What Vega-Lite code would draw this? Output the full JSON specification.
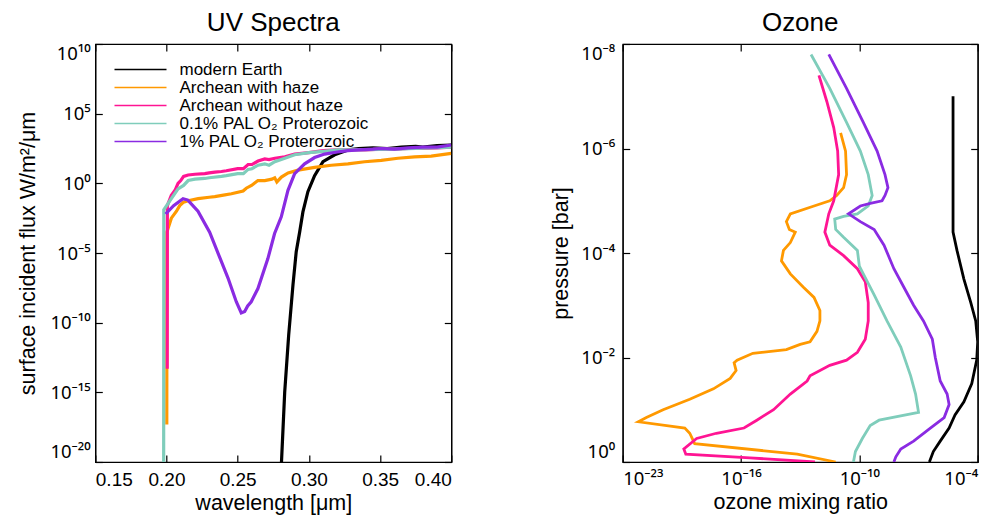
{
  "$schema": "https://vega.github.io/schema/vega-lite/v6.json",
  "background": "white",
  "padding": {"left": 17.3, "top": 9, "right": 5, "bottom": 5},
  "autosize": {"type": "pad"},
  "config": {
    "font": "Liberation Sans",
    "view": {"stroke": "black", "strokeWidth": 1.2},
    "axis": {
      "grid": false, "domainColor": "black", "domainWidth": 1.2,
      "tickColor": "black", "tickWidth": 1.2, "tickSize": -7,
      "labelColor": "black", "labelFont": "Liberation Sans", "labelFontSize": 19,
      "labelOverlap": false,
      "titleColor": "black", "titleFont": "Liberation Sans", "titleFontSize": 21.5, "titleFontWeight": "normal"
    },
    "title": {"font": "Liberation Sans", "fontSize": 26, "fontWeight": "normal", "color": "black", "offset": 7}
  },
  "datasets": {
    "uv": [
      {"series": "modern Earth", "wl": 0.2803, "flux": 1e-21},
      {"series": "modern Earth", "wl": 0.2830, "flux": 1e-15},
      {"series": "modern Earth", "wl": 0.2858, "flux": 1.259e-11},
      {"series": "modern Earth", "wl": 0.2888, "flux": 5.012e-8},
      {"series": "modern Earth", "wl": 0.2911, "flux": 1.259e-5},
      {"series": "modern Earth", "wl": 0.2935, "flux": 3.162e-4},
      {"series": "modern Earth", "wl": 0.2958, "flux": 8.913e-3},
      {"series": "modern Earth", "wl": 0.2993, "flux": 0.2512},
      {"series": "modern Earth", "wl": 0.3040, "flux": 3.548},
      {"series": "modern Earth", "wl": 0.3099, "flux": 35.48},
      {"series": "modern Earth", "wl": 0.3181, "flux": 112.2},
      {"series": "modern Earth", "wl": 0.3274, "flux": 251.2},
      {"series": "modern Earth", "wl": 0.335, "flux": 316.2},
      {"series": "modern Earth", "wl": 0.345, "flux": 354.8},
      {"series": "modern Earth", "wl": 0.355, "flux": 316.2},
      {"series": "modern Earth", "wl": 0.365, "flux": 398.1},
      {"series": "modern Earth", "wl": 0.375, "flux": 446.7},
      {"series": "modern Earth", "wl": 0.38, "flux": 398.1},
      {"series": "modern Earth", "wl": 0.39, "flux": 501.2},
      {"series": "modern Earth", "wl": 0.40, "flux": 562.3},

      {"series": "Archean with haze", "wl": 0.2002, "flux": 5.012e-18},
      {"series": "Archean with haze", "wl": 0.2003, "flux": 3.162e-4},
      {"series": "Archean with haze", "wl": 0.2034, "flux": 3.162e-3},
      {"series": "Archean with haze", "wl": 0.2070, "flux": 0.01},
      {"series": "Archean with haze", "wl": 0.2093, "flux": 0.02512},
      {"series": "Archean with haze", "wl": 0.2120, "flux": 0.04467},
      {"series": "Archean with haze", "wl": 0.2152, "flux": 0.05623},
      {"series": "Archean with haze", "wl": 0.2222, "flux": 0.07943},
      {"series": "Archean with haze", "wl": 0.2300, "flux": 0.1},
      {"series": "Archean with haze", "wl": 0.2339, "flux": 0.1122},
      {"series": "Archean with haze", "wl": 0.2400, "flux": 0.1413},
      {"series": "Archean with haze", "wl": 0.2456, "flux": 0.1778},
      {"series": "Archean with haze", "wl": 0.2538, "flux": 0.2818},
      {"series": "Archean with haze", "wl": 0.2560, "flux": 0.4467},
      {"series": "Archean with haze", "wl": 0.2597, "flux": 0.7079},
      {"series": "Archean with haze", "wl": 0.2642, "flux": 1.585},
      {"series": "Archean with haze", "wl": 0.2690, "flux": 1.585},
      {"series": "Archean with haze", "wl": 0.2740, "flux": 1.995},
      {"series": "Archean with haze", "wl": 0.2760, "flux": 2.512},
      {"series": "Archean with haze", "wl": 0.2775, "flux": 1.259},
      {"series": "Archean with haze", "wl": 0.2807, "flux": 2.818},
      {"series": "Archean with haze", "wl": 0.2854, "flux": 5.623},
      {"series": "Archean with haze", "wl": 0.2924, "flux": 8.913},
      {"series": "Archean with haze", "wl": 0.3040, "flux": 14.13},
      {"series": "Archean with haze", "wl": 0.3157, "flux": 19.95},
      {"series": "Archean with haze", "wl": 0.3274, "flux": 25.12},
      {"series": "Archean with haze", "wl": 0.3391, "flux": 35.48},
      {"series": "Archean with haze", "wl": 0.3508, "flux": 44.67},
      {"series": "Archean with haze", "wl": 0.3625, "flux": 63.10},
      {"series": "Archean with haze", "wl": 0.3742, "flux": 79.43},
      {"series": "Archean with haze", "wl": 0.3859, "flux": 89.13},
      {"series": "Archean with haze", "wl": 0.4000, "flux": 141.3},

      {"series": "Archean without haze", "wl": 0.2005, "flux": 5.012e-14},
      {"series": "Archean without haze", "wl": 0.2006, "flux": 0.02512},
      {"series": "Archean without haze", "wl": 0.2034, "flux": 0.1413},
      {"series": "Archean without haze", "wl": 0.2060, "flux": 0.3162},
      {"series": "Archean without haze", "wl": 0.2081, "flux": 1},
      {"series": "Archean without haze", "wl": 0.2100, "flux": 1.585},
      {"series": "Archean without haze", "wl": 0.2120, "flux": 3.162},
      {"series": "Archean without haze", "wl": 0.2152, "flux": 3.981},
      {"series": "Archean without haze", "wl": 0.2200, "flux": 4.467},
      {"series": "Archean without haze", "wl": 0.2269, "flux": 5.012},
      {"series": "Archean without haze", "wl": 0.2300, "flux": 5.623},
      {"series": "Archean without haze", "wl": 0.2340, "flux": 6.310},
      {"series": "Archean without haze", "wl": 0.2386, "flux": 7.079},
      {"series": "Archean without haze", "wl": 0.2420, "flux": 7.943},
      {"series": "Archean without haze", "wl": 0.2500, "flux": 11.22},
      {"series": "Archean without haze", "wl": 0.2540, "flux": 11.22},
      {"series": "Archean without haze", "wl": 0.2573, "flux": 22.39},
      {"series": "Archean without haze", "wl": 0.2600, "flux": 22.39},
      {"series": "Archean without haze", "wl": 0.2643, "flux": 39.81},
      {"series": "Archean without haze", "wl": 0.2690, "flux": 56.23},
      {"series": "Archean without haze", "wl": 0.2720, "flux": 50.12},
      {"series": "Archean without haze", "wl": 0.2761, "flux": 63.10},
      {"series": "Archean without haze", "wl": 0.2831, "flux": 79.43},
      {"series": "Archean without haze", "wl": 0.2900, "flux": 125.9},
      {"series": "Archean without haze", "wl": 0.3000, "flux": 158.5},
      {"series": "Archean without haze", "wl": 0.3100, "flux": 223.9},
      {"series": "Archean without haze", "wl": 0.3200, "flux": 251.2},
      {"series": "Archean without haze", "wl": 0.3300, "flux": 251.2},
      {"series": "Archean without haze", "wl": 0.3400, "flux": 251.2},
      {"series": "Archean without haze", "wl": 0.3500, "flux": 281.8},
      {"series": "Archean without haze", "wl": 0.3600, "flux": 281.8},
      {"series": "Archean without haze", "wl": 0.3700, "flux": 316.2},
      {"series": "Archean without haze", "wl": 0.3800, "flux": 316.2},
      {"series": "Archean without haze", "wl": 0.3900, "flux": 354.8},
      {"series": "Archean without haze", "wl": 0.4000, "flux": 398.1},

      {"series": "0.1% PAL O₂ Proterozoic", "wl": 0.1980, "flux": 1e-22},
      {"series": "0.1% PAL O₂ Proterozoic", "wl": 0.1981, "flux": 0.01259},
      {"series": "0.1% PAL O₂ Proterozoic", "wl": 0.2034, "flux": 0.07943},
      {"series": "0.1% PAL O₂ Proterozoic", "wl": 0.2081, "flux": 0.3981},
      {"series": "0.1% PAL O₂ Proterozoic", "wl": 0.2120, "flux": 0.7079},
      {"series": "0.1% PAL O₂ Proterozoic", "wl": 0.2152, "flux": 1.585},
      {"series": "0.1% PAL O₂ Proterozoic", "wl": 0.2200, "flux": 1.995},
      {"series": "0.1% PAL O₂ Proterozoic", "wl": 0.2269, "flux": 2.239},
      {"series": "0.1% PAL O₂ Proterozoic", "wl": 0.2300, "flux": 2.512},
      {"series": "0.1% PAL O₂ Proterozoic", "wl": 0.2386, "flux": 3.162},
      {"series": "0.1% PAL O₂ Proterozoic", "wl": 0.2420, "flux": 3.548},
      {"series": "0.1% PAL O₂ Proterozoic", "wl": 0.2500, "flux": 5.012},
      {"series": "0.1% PAL O₂ Proterozoic", "wl": 0.2540, "flux": 5.012},
      {"series": "0.1% PAL O₂ Proterozoic", "wl": 0.2573, "flux": 10},
      {"series": "0.1% PAL O₂ Proterozoic", "wl": 0.2600, "flux": 11.22},
      {"series": "0.1% PAL O₂ Proterozoic", "wl": 0.2643, "flux": 19.95},
      {"series": "0.1% PAL O₂ Proterozoic", "wl": 0.2690, "flux": 25.12},
      {"series": "0.1% PAL O₂ Proterozoic", "wl": 0.2720, "flux": 19.95},
      {"series": "0.1% PAL O₂ Proterozoic", "wl": 0.2761, "flux": 35.48},
      {"series": "0.1% PAL O₂ Proterozoic", "wl": 0.2831, "flux": 63.10},
      {"series": "0.1% PAL O₂ Proterozoic", "wl": 0.2900, "flux": 112.2},
      {"series": "0.1% PAL O₂ Proterozoic", "wl": 0.3000, "flux": 158.5},
      {"series": "0.1% PAL O₂ Proterozoic", "wl": 0.3100, "flux": 199.5},
      {"series": "0.1% PAL O₂ Proterozoic", "wl": 0.3200, "flux": 251.2},
      {"series": "0.1% PAL O₂ Proterozoic", "wl": 0.3300, "flux": 251.2},
      {"series": "0.1% PAL O₂ Proterozoic", "wl": 0.3600, "flux": 281.8},
      {"series": "0.1% PAL O₂ Proterozoic", "wl": 0.4000, "flux": 398.1},

      {"series": "1% PAL O₂ Proterozoic", "wl": 0.1994, "flux": 6.310e-3},
      {"series": "1% PAL O₂ Proterozoic", "wl": 0.2050, "flux": 0.02512},
      {"series": "1% PAL O₂ Proterozoic", "wl": 0.2116, "flux": 0.07943},
      {"series": "1% PAL O₂ Proterozoic", "wl": 0.2150, "flux": 0.0631},
      {"series": "1% PAL O₂ Proterozoic", "wl": 0.2221, "flux": 0.01},
      {"series": "1% PAL O₂ Proterozoic", "wl": 0.2303, "flux": 3.162e-4},
      {"series": "1% PAL O₂ Proterozoic", "wl": 0.2373, "flux": 5.012e-6},
      {"series": "1% PAL O₂ Proterozoic", "wl": 0.2432, "flux": 1.585e-7},
      {"series": "1% PAL O₂ Proterozoic", "wl": 0.2490, "flux": 3.162e-9},
      {"series": "1% PAL O₂ Proterozoic", "wl": 0.2525, "flux": 5.012e-10},
      {"series": "1% PAL O₂ Proterozoic", "wl": 0.2549, "flux": 6.310e-10},
      {"series": "1% PAL O₂ Proterozoic", "wl": 0.2570, "flux": 1.585e-9},
      {"series": "1% PAL O₂ Proterozoic", "wl": 0.2595, "flux": 3.162e-9},
      {"series": "1% PAL O₂ Proterozoic", "wl": 0.2642, "flux": 2.818e-8},
      {"series": "1% PAL O₂ Proterozoic", "wl": 0.2712, "flux": 3.981e-6},
      {"series": "1% PAL O₂ Proterozoic", "wl": 0.2759, "flux": 2.512e-4},
      {"series": "1% PAL O₂ Proterozoic", "wl": 0.2806, "flux": 3.981e-3},
      {"series": "1% PAL O₂ Proterozoic", "wl": 0.2853, "flux": 0.3162},
      {"series": "1% PAL O₂ Proterozoic", "wl": 0.2900, "flux": 5.012},
      {"series": "1% PAL O₂ Proterozoic", "wl": 0.2970, "flux": 25.12},
      {"series": "1% PAL O₂ Proterozoic", "wl": 0.3040, "flux": 70.79},
      {"series": "1% PAL O₂ Proterozoic", "wl": 0.3110, "flux": 125.9},
      {"series": "1% PAL O₂ Proterozoic", "wl": 0.3200, "flux": 177.8},
      {"series": "1% PAL O₂ Proterozoic", "wl": 0.3274, "flux": 223.9},
      {"series": "1% PAL O₂ Proterozoic", "wl": 0.3350, "flux": 251.2},
      {"series": "1% PAL O₂ Proterozoic", "wl": 0.3450, "flux": 281.8},
      {"series": "1% PAL O₂ Proterozoic", "wl": 0.3508, "flux": 316.2},
      {"series": "1% PAL O₂ Proterozoic", "wl": 0.3600, "flux": 281.8},
      {"series": "1% PAL O₂ Proterozoic", "wl": 0.3700, "flux": 354.8},
      {"series": "1% PAL O₂ Proterozoic", "wl": 0.3800, "flux": 398.1},
      {"series": "1% PAL O₂ Proterozoic", "wl": 0.3900, "flux": 398.1},
      {"series": "1% PAL O₂ Proterozoic", "wl": 0.4000, "flux": 562.3}
    ],
    "oz": [
      {"series": "modern Earth", "mix": 5.623e-6, "p": 1e-7},
      {"series": "modern Earth", "mix": 5.623e-6, "p": 3.981e-5},
      {"series": "modern Earth", "mix": 8.913e-6, "p": 8.913e-5},
      {"series": "modern Earth", "mix": 1.995e-5, "p": 3.162e-4},
      {"series": "modern Earth", "mix": 4.467e-5, "p": 8.913e-4},
      {"series": "modern Earth", "mix": 7.943e-5, "p": 1.995e-3},
      {"series": "modern Earth", "mix": 1e-4, "p": 5.012e-3},
      {"series": "modern Earth", "mix": 8.913e-5, "p": 0.01122},
      {"series": "modern Earth", "mix": 5.012e-5, "p": 0.03162},
      {"series": "modern Earth", "mix": 1.995e-5, "p": 0.07079},
      {"series": "modern Earth", "mix": 7.079e-6, "p": 0.1259},
      {"series": "modern Earth", "mix": 3.548e-6, "p": 0.2239},
      {"series": "modern Earth", "mix": 1.259e-6, "p": 0.3981},
      {"series": "modern Earth", "mix": 5.623e-7, "p": 0.6310},
      {"series": "modern Earth", "mix": 3.548e-7, "p": 1},

      {"series": "Archean with haze", "mix": 1.122e-11, "p": 5.012e-7},
      {"series": "Archean with haze", "mix": 1.995e-11, "p": 1.122e-6},
      {"series": "Archean with haze", "mix": 2.239e-11, "p": 3.162e-6},
      {"series": "Archean with haze", "mix": 1.585e-11, "p": 5.623e-6},
      {"series": "Archean with haze", "mix": 7.079e-12, "p": 7.943e-6},
      {"series": "Archean with haze", "mix": 3.162e-12, "p": 1e-5},
      {"series": "Archean with haze", "mix": 5.012e-13, "p": 1.259e-5},
      {"series": "Archean with haze", "mix": 3.162e-14, "p": 1.778e-5},
      {"series": "Archean with haze", "mix": 1.995e-14, "p": 2.512e-5},
      {"series": "Archean with haze", "mix": 2.818e-14, "p": 3.548e-5},
      {"series": "Archean with haze", "mix": 5.623e-14, "p": 3.981e-5},
      {"series": "Archean with haze", "mix": 3.162e-14, "p": 6.310e-5},
      {"series": "Archean with haze", "mix": 1.413e-14, "p": 8.913e-5},
      {"series": "Archean with haze", "mix": 1.122e-14, "p": 1.413e-4},
      {"series": "Archean with haze", "mix": 3.162e-14, "p": 2.512e-4},
      {"series": "Archean with haze", "mix": 1.413e-13, "p": 4.467e-4},
      {"series": "Archean with haze", "mix": 5.012e-13, "p": 7.079e-4},
      {"series": "Archean with haze", "mix": 1e-12, "p": 1.259e-3},
      {"series": "Archean with haze", "mix": 1e-12, "p": 1.995e-3},
      {"series": "Archean with haze", "mix": 7.079e-13, "p": 3.162e-3},
      {"series": "Archean with haze", "mix": 3.162e-13, "p": 5.012e-3},
      {"series": "Archean with haze", "mix": 1e-13, "p": 5.623e-3},
      {"series": "Archean with haze", "mix": 1.995e-14, "p": 7.079e-3},
      {"series": "Archean with haze", "mix": 3.981e-16, "p": 8.318e-3},
      {"series": "Archean with haze", "mix": 6.310e-17, "p": 0.01122},
      {"series": "Archean with haze", "mix": 4.467e-17, "p": 0.01259},
      {"series": "Archean with haze", "mix": 5.623e-17, "p": 0.01778},
      {"series": "Archean with haze", "mix": 2.818e-17, "p": 0.02512},
      {"series": "Archean with haze", "mix": 3.981e-18, "p": 0.03981},
      {"series": "Archean with haze", "mix": 2.512e-19, "p": 0.06310},
      {"series": "Archean with haze", "mix": 1.122e-20, "p": 0.1},
      {"series": "Archean with haze", "mix": 1.585e-21, "p": 0.1413},
      {"series": "Archean with haze", "mix": 6.310e-22, "p": 0.1698},
      {"series": "Archean with haze", "mix": 1.413e-19, "p": 0.2239},
      {"series": "Archean with haze", "mix": 2.512e-19, "p": 0.2818},
      {"series": "Archean with haze", "mix": 4.467e-19, "p": 0.4467},
      {"series": "Archean with haze", "mix": 7.079e-14, "p": 0.7079},
      {"series": "Archean with haze", "mix": 6.310e-12, "p": 1},

      {"series": "Archean without haze", "mix": 8.913e-13, "p": 3.981e-8},
      {"series": "Archean without haze", "mix": 2.239e-12, "p": 1.259e-7},
      {"series": "Archean without haze", "mix": 5.012e-12, "p": 3.981e-7},
      {"series": "Archean without haze", "mix": 7.943e-12, "p": 1.122e-6},
      {"series": "Archean without haze", "mix": 8.913e-12, "p": 3.162e-6},
      {"series": "Archean without haze", "mix": 5.012e-12, "p": 1e-5},
      {"series": "Archean without haze", "mix": 2.818e-12, "p": 1.778e-5},
      {"series": "Archean without haze", "mix": 1.778e-12, "p": 3.981e-5},
      {"series": "Archean without haze", "mix": 3.162e-12, "p": 7.079e-5},
      {"series": "Archean without haze", "mix": 1.585e-11, "p": 1.122e-4},
      {"series": "Archean without haze", "mix": 7.943e-11, "p": 1.995e-4},
      {"series": "Archean without haze", "mix": 1.995e-10, "p": 3.548e-4},
      {"series": "Archean without haze", "mix": 2.818e-10, "p": 8.913e-4},
      {"series": "Archean without haze", "mix": 2.818e-10, "p": 1.995e-3},
      {"series": "Archean without haze", "mix": 1.995e-10, "p": 4.467e-3},
      {"series": "Archean without haze", "mix": 7.943e-11, "p": 7.943e-3},
      {"series": "Archean without haze", "mix": 2.239e-11, "p": 0.01122},
      {"series": "Archean without haze", "mix": 3.162e-12, "p": 0.01413},
      {"series": "Archean without haze", "mix": 3.162e-13, "p": 0.02239},
      {"series": "Archean without haze", "mix": 2.239e-13, "p": 0.02818},
      {"series": "Archean without haze", "mix": 3.162e-14, "p": 0.05012},
      {"series": "Archean without haze", "mix": 4.467e-15, "p": 0.1},
      {"series": "Archean without haze", "mix": 6.310e-16, "p": 0.1585},
      {"series": "Archean without haze", "mix": 1.413e-16, "p": 0.2239},
      {"series": "Archean without haze", "mix": 5.623e-18, "p": 0.2818},
      {"series": "Archean without haze", "mix": 5.623e-19, "p": 0.3548},
      {"series": "Archean without haze", "mix": 1.259e-19, "p": 0.5623},
      {"series": "Archean without haze", "mix": 1.585e-19, "p": 0.7079},
      {"series": "Archean without haze", "mix": 2.818e-16, "p": 0.8318},
      {"series": "Archean without haze", "mix": 5.623e-13, "p": 1},

      {"series": "0.1% PAL O₂ Proterozoic", "mix": 3.548e-13, "p": 1.585e-8},
      {"series": "0.1% PAL O₂ Proterozoic", "mix": 3.162e-12, "p": 7.079e-8},
      {"series": "0.1% PAL O₂ Proterozoic", "mix": 2.239e-11, "p": 3.162e-7},
      {"series": "0.1% PAL O₂ Proterozoic", "mix": 1.122e-10, "p": 1.122e-6},
      {"series": "0.1% PAL O₂ Proterozoic", "mix": 2.818e-10, "p": 3.162e-6},
      {"series": "0.1% PAL O₂ Proterozoic", "mix": 4.467e-10, "p": 7.943e-6},
      {"series": "0.1% PAL O₂ Proterozoic", "mix": 2.818e-10, "p": 1.259e-5},
      {"series": "0.1% PAL O₂ Proterozoic", "mix": 7.943e-11, "p": 1.778e-5},
      {"series": "0.1% PAL O₂ Proterozoic", "mix": 1.585e-11, "p": 1.995e-5},
      {"series": "0.1% PAL O₂ Proterozoic", "mix": 5.623e-12, "p": 2.239e-5},
      {"series": "0.1% PAL O₂ Proterozoic", "mix": 6.310e-12, "p": 3.548e-5},
      {"series": "0.1% PAL O₂ Proterozoic", "mix": 1.585e-11, "p": 5.012e-5},
      {"series": "0.1% PAL O₂ Proterozoic", "mix": 7.943e-11, "p": 8.913e-5},
      {"series": "0.1% PAL O₂ Proterozoic", "mix": 1e-10, "p": 1.778e-4},
      {"series": "0.1% PAL O₂ Proterozoic", "mix": 1.585e-10, "p": 2.512e-4},
      {"series": "0.1% PAL O₂ Proterozoic", "mix": 5.623e-10, "p": 6.310e-4},
      {"series": "0.1% PAL O₂ Proterozoic", "mix": 2.512e-9, "p": 1.995e-3},
      {"series": "0.1% PAL O₂ Proterozoic", "mix": 1.259e-8, "p": 6.310e-3},
      {"series": "0.1% PAL O₂ Proterozoic", "mix": 3.981e-8, "p": 0.02239},
      {"series": "0.1% PAL O₂ Proterozoic", "mix": 7.079e-8, "p": 0.05012},
      {"series": "0.1% PAL O₂ Proterozoic", "mix": 1e-7, "p": 0.1122},
      {"series": "0.1% PAL O₂ Proterozoic", "mix": 1e-9, "p": 0.1585},
      {"series": "0.1% PAL O₂ Proterozoic", "mix": 3.548e-10, "p": 0.1995},
      {"series": "0.1% PAL O₂ Proterozoic", "mix": 1.413e-10, "p": 0.3548},
      {"series": "0.1% PAL O₂ Proterozoic", "mix": 6.310e-11, "p": 0.6310},
      {"series": "0.1% PAL O₂ Proterozoic", "mix": 5.012e-11, "p": 1},

      {"series": "1% PAL O₂ Proterozoic", "mix": 2.818e-12, "p": 1.585e-8},
      {"series": "1% PAL O₂ Proterozoic", "mix": 2.239e-11, "p": 7.079e-8},
      {"series": "1% PAL O₂ Proterozoic", "mix": 1.585e-10, "p": 3.162e-7},
      {"series": "1% PAL O₂ Proterozoic", "mix": 7.943e-10, "p": 1.122e-6},
      {"series": "1% PAL O₂ Proterozoic", "mix": 1.995e-9, "p": 3.162e-6},
      {"series": "1% PAL O₂ Proterozoic", "mix": 2.818e-9, "p": 5.623e-6},
      {"series": "1% PAL O₂ Proterozoic", "mix": 1.995e-9, "p": 7.943e-6},
      {"series": "1% PAL O₂ Proterozoic", "mix": 1.413e-9, "p": 1e-5},
      {"series": "1% PAL O₂ Proterozoic", "mix": 3.548e-10, "p": 1.122e-5},
      {"series": "1% PAL O₂ Proterozoic", "mix": 1.122e-10, "p": 1.259e-5},
      {"series": "1% PAL O₂ Proterozoic", "mix": 2.818e-11, "p": 1.778e-5},
      {"series": "1% PAL O₂ Proterozoic", "mix": 1.122e-10, "p": 2.512e-5},
      {"series": "1% PAL O₂ Proterozoic", "mix": 5.623e-10, "p": 3.548e-5},
      {"series": "1% PAL O₂ Proterozoic", "mix": 1.778e-9, "p": 7.079e-5},
      {"series": "1% PAL O₂ Proterozoic", "mix": 5.623e-9, "p": 1.995e-4},
      {"series": "1% PAL O₂ Proterozoic", "mix": 1.778e-8, "p": 4.467e-4},
      {"series": "1% PAL O₂ Proterozoic", "mix": 5.623e-8, "p": 1e-3},
      {"series": "1% PAL O₂ Proterozoic", "mix": 1.778e-7, "p": 1.995e-3},
      {"series": "1% PAL O₂ Proterozoic", "mix": 5.012e-7, "p": 4.467e-3},
      {"series": "1% PAL O₂ Proterozoic", "mix": 7.079e-7, "p": 0.01},
      {"series": "1% PAL O₂ Proterozoic", "mix": 1.259e-6, "p": 0.02818},
      {"series": "1% PAL O₂ Proterozoic", "mix": 2.818e-6, "p": 0.05012},
      {"series": "1% PAL O₂ Proterozoic", "mix": 3.548e-6, "p": 0.07943},
      {"series": "1% PAL O₂ Proterozoic", "mix": 1.995e-6, "p": 0.1413},
      {"series": "1% PAL O₂ Proterozoic", "mix": 3.981e-7, "p": 0.2239},
      {"series": "1% PAL O₂ Proterozoic", "mix": 5.623e-8, "p": 0.3981},
      {"series": "1% PAL O₂ Proterozoic", "mix": 1.259e-8, "p": 0.5623},
      {"series": "1% PAL O₂ Proterozoic", "mix": 7.079e-9, "p": 0.7943},
      {"series": "1% PAL O₂ Proterozoic", "mix": 5.623e-9, "p": 1}
    ]
  },
  "bounds": "flush",
  "spacing": 171.4,
  "resolve": {"scale": {"color": "independent"}, "legend": {"color": "independent"}},
  "hconcat": [
    {
      "title": "UV Spectra",
      "width": 356,
      "height": 418,
      "data": {"name": "uv"},
      "resolve": {"axis": {"x": "independent", "y": "independent"}},
      "layer": [
        {
          "mark": {"type": "line", "strokeWidth": 3.2, "clip": true},
          "encoding": {
            "x": {
              "field": "wl", "type": "quantitative",
              "scale": {"domain": [0.15, 0.4], "nice": false, "zero": false},
              "axis": {"orient": "bottom", "values": [0.15, 0.2, 0.25, 0.3, 0.35, 0.4], "format": ".2f", "title": "wavelength [μm]", "labelPadding": 16, "titlePadding": 3}
            },
            "y": {
              "field": "flux", "type": "quantitative",
              "scale": {"type": "log", "domain": [1e-20, 1e10], "nice": false},
              "axis": {
                "orient": "left",
                "values": [1e-20, 1e-15, 1e-10, 1e-5, 1, 1e5, 1e10],
                "labelExpr": "datum.value < 1e-17 ? '10⁻²⁰' : datum.value < 1e-12 ? '10⁻¹⁵' : datum.value < 1e-7 ? '10⁻¹⁰' : datum.value < 1e-2 ? '10⁻⁵' : datum.value < 100 ? '10⁰' : datum.value < 1e7 ? '10⁵' : '10¹⁰'",
                "labelFlush": true, "labelFont": "Noto Sans", "labelFontSize": 18.5,
                "title": "surface incident flux W/m²/μm",
                "labelPadding": 12, "titlePadding": 10
              }
            },
            "color": {
              "field": "series", "type": "nominal",
              "scale": {
                "domain": ["modern Earth", "Archean with haze", "Archean without haze", "0.1% PAL O₂ Proterozoic", "1% PAL O₂ Proterozoic"],
                "range": ["#000000", "#ff9900", "#ff1493", "#7fcdbb", "#8a2be2"]
              },
              "legend": {
                "title": null, "orient": "none", "legendX": 18.2, "legendY": 16.8,
                "symbolType": "stroke", "symbolSize": 2704, "symbolStrokeWidth": 1.5,
                "labelFontSize": 17, "labelFont": "Liberation Sans", "labelColor": "black",
                "labelOffset": 12, "clipHeight": 17.5, "rowPadding": -1.25, "padding": 0, "labelLimit": 400
              }
            }
          }
        },
        {
          "mark": {"type": "line", "opacity": 0},
          "encoding": {
            "x": {
              "field": "wl", "type": "quantitative",
              "scale": {"domain": [0.15, 0.4], "nice": false, "zero": false},
              "axis": {"orient": "top", "values": [0.15, 0.2, 0.25, 0.3, 0.35, 0.4], "labels": false, "title": null}
            },
            "y": {
              "field": "flux", "type": "quantitative",
              "scale": {"type": "log", "domain": [1e-20, 1e10], "nice": false},
              "axis": {"orient": "right", "values": [1e-20, 1e-15, 1e-10, 1e-5, 1, 1e5, 1e10], "labels": false, "title": null}
            }
          }
        }
      ]
    },
    {
      "title": "Ozone",
      "width": 355,
      "height": 418,
      "data": {"name": "oz"},
      "resolve": {"axis": {"x": "independent", "y": "independent"}},
      "layer": [
        {
          "mark": {"type": "line", "strokeWidth": 2.8, "clip": true},
          "encoding": {
            "x": {
              "field": "mix", "type": "quantitative",
              "scale": {"type": "log", "domain": [1e-22, 1e-4], "nice": false},
              "axis": {
                "orient": "bottom",
                "values": [1e-22, 1e-16, 1e-10, 1e-4],
                "labelExpr": "datum.value < 1e-19 ? '10⁻²³' : datum.value < 1e-13 ? '10⁻¹⁶' : datum.value < 1e-7 ? '10⁻¹⁰' : '10⁻⁴'",
                "labelFont": "Noto Sans", "labelFontSize": 18.5,
                "title": "ozone mixing ratio", "labelPadding": 15, "titlePadding": 3
              }
            },
            "y": {
              "field": "p", "type": "quantitative",
              "scale": {"type": "log", "domain": [1e-8, 1], "nice": false, "reverse": true},
              "axis": {
                "orient": "left",
                "values": [1e-8, 1e-6, 1e-4, 1e-2, 1],
                "labelExpr": "datum.value < 1e-7 ? '10⁻⁸' : datum.value < 1e-5 ? '10⁻⁶' : datum.value < 1e-3 ? '10⁻⁴' : datum.value < 0.1 ? '10⁻²' : '10⁰'",
                "labelFlush": true, "labelFont": "Noto Sans", "labelFontSize": 18.5,
                "title": "pressure [bar]", "labelPadding": 15, "titlePadding": 8
              }
            },
            "order": {"field": "p", "type": "quantitative"},
            "color": {
              "field": "series", "type": "nominal",
              "scale": {
                "domain": ["modern Earth", "Archean with haze", "Archean without haze", "0.1% PAL O₂ Proterozoic", "1% PAL O₂ Proterozoic"],
                "range": ["#000000", "#ff9900", "#ff1493", "#7fcdbb", "#8a2be2"]
              },
              "legend": null
            }
          }
        },
        {
          "mark": {"type": "line", "opacity": 0},
          "encoding": {
            "x": {
              "field": "mix", "type": "quantitative",
              "scale": {"type": "log", "domain": [1e-22, 1e-4], "nice": false},
              "axis": {"orient": "top", "values": [1e-22, 1e-16, 1e-10, 1e-4], "labels": false, "title": null}
            },
            "y": {
              "field": "p", "type": "quantitative",
              "scale": {"type": "log", "domain": [1e-8, 1], "nice": false, "reverse": true},
              "axis": {"orient": "right", "values": [1e-8, 1e-6, 1e-4, 1e-2, 1], "labels": false, "title": null}
            }
          }
        }
      ]
    }
  ]
}
